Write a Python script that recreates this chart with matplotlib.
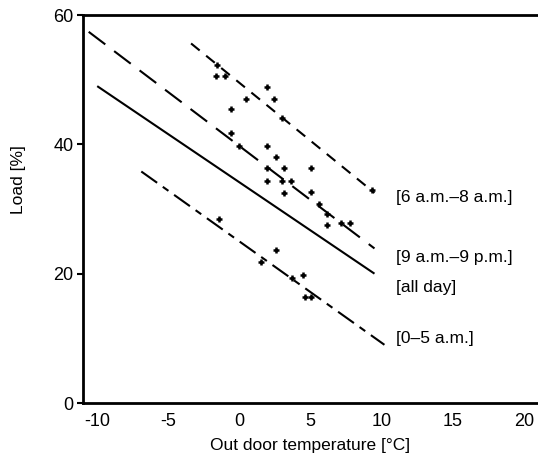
import matplotlib
matplotlib.use("Agg")
import matplotlib.pyplot as plt

plt.rcParams['font.family'] = ['Liberation Sans', 'DejaVu Sans']
plt.rcParams['lines.scale_dashes'] = False

# Regression lines: (x_start, x_end), (y_start, y_end)
line_all_day = ([-10.0, 9.5], [49.0, 20.0])
line_day = ([-10.6, 9.5], [57.4, 23.9])
line_morning = ([-3.4, 9.5], [55.6, 32.5])
line_night = ([-6.9, 10.2], [35.8, 9.0])

# Measured points
morning_x = [-1.55, -1.62, -0.99, 1.97, 0.49, 2.46, -0.56, 3.03, 9.3]
morning_y = [52.3, 50.6, 50.6, 48.8, 47.0, 47.0, 45.4, 44.0, 32.9]

day_x = [-0.56, 0.0, 1.97, 2.6, 1.97, 3.17, 5.07, 1.97, 3.03, 3.66,
         3.17, 5.07, 5.63, 6.13, 6.13, 7.18, 7.75]
day_y = [41.7, 39.8, 39.8, 38.0, 36.3, 36.3, 36.3, 34.4, 34.4, 34.4,
         32.4, 32.6, 30.7, 29.3, 27.5, 27.8, 27.8]

night_x = [-1.41, 1.55, 2.6, 3.73, 4.44, 4.58, 5.07]
night_y = [28.5, 21.8, 23.6, 19.4, 19.8, 16.4, 16.4]

labels = ["[6 a.m.\u20138 a.m.]", "[9 a.m.\u20139 p.m.]", "[all day]", "[0\u20135 a.m.]"]
label_y = [31.8, 22.5, 17.9, 10.0]

x_ticks = [-10, -5, 0, 5, 10, 15, 20]
y_ticks = [0, 20, 40, 60]

fig = plt.figure(figsize=(5.38, 4.65), dpi=100)
ax = fig.add_axes([83 / 538, 1 - 403 / 465, 1 - 83 / 538, (403 - 15) / 465])

lw = 1.5
ax.plot(*line_all_day, color='black', lw=lw, solid_capstyle='butt')
ax.plot(*line_day, color='black', lw=lw, dashes=(15, 8))
ax.plot(*line_morning, color='black', lw=lw, dashes=(8, 6))
ax.plot(*line_night, color='black', lw=lw, dashes=(14, 5, 5, 5))

for xs, ys in [(morning_x, morning_y), (day_x, day_y), (night_x, night_y)]:
    ax.plot(xs, ys, linestyle='none', marker='+', color='black',
            markersize=5, markeredgewidth=1.8)

for lab, yy in zip(labels, label_y):
    ax.text(11.0, yy, lab, fontsize=12.5, va='center', ha='left')

ax.set_xlim(-11, 21)
ax.set_ylim(0, 60)
ax.set_xticks(x_ticks)
ax.set_xticklabels([str(v) for v in x_ticks])
ax.set_yticks(y_ticks)
ax.tick_params(axis='x', length=0, pad=7, labelsize=13)
ax.tick_params(axis='y', length=4, width=1.5, pad=3, labelsize=13)

for side in ['left', 'bottom', 'top']:
    ax.spines[side].set_linewidth(2)
ax.spines['right'].set_visible(False)

ax.set_xlabel("Out door temperature [\u00b0C]", fontsize=12.5, labelpad=6)
fig.text(18 / 538, 1 - 180 / 465, "Load [%]", rotation=90, fontsize=12.5,
         ha='center', va='center')

fig.savefig("out.png", dpi=100)
